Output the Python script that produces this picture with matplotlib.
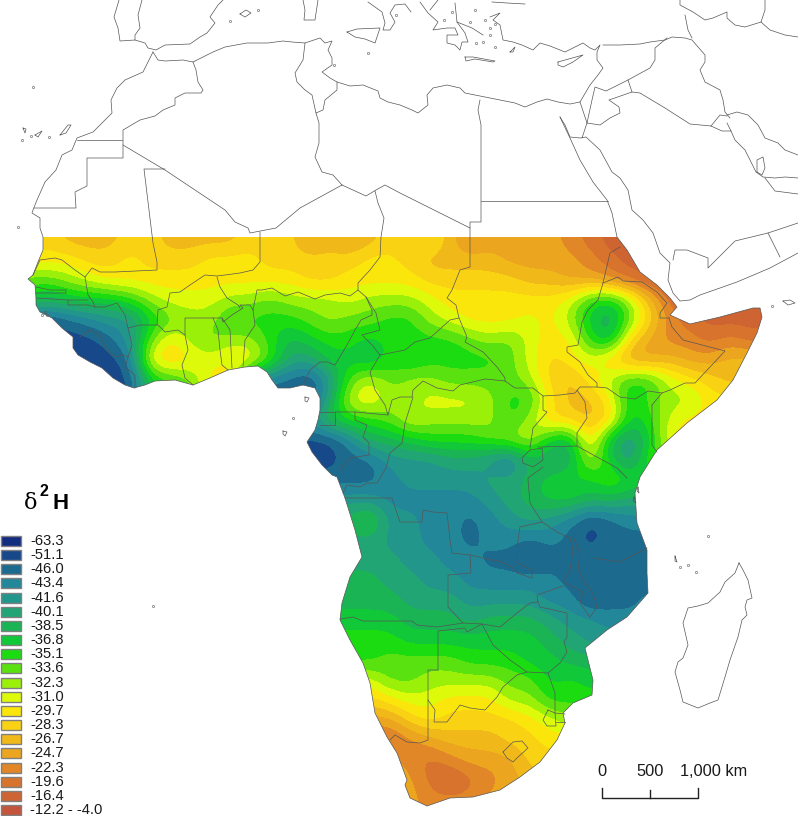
'''Map of modelled d2H over Africa: class grid read off the picture, with the
country lines traced on top. All map lists are in image pixels.'''
import matplotlib
matplotlib.use('Agg')
import matplotlib.pyplot as plt
import numpy as np
from matplotlib.colors import ListedColormap
from matplotlib.patches import Polygon, Rectangle

plt.rcParams['font.family'] = ['Liberation Sans', 'DejaVu Sans']

class_labels = ['-63.3', '-51.1', '-46.0', '-43.4', '-41.6', '-40.1', '-38.5', '-36.8', '-35.1', '-33.6',
                '-32.3', '-31.0', '-29.7', '-28.3', '-26.7', '-24.7', '-22.3', '-19.6', '-16.4', '-12.2 - -4.0']
class_colors = ['#122c80', '#17488a', '#1c6a8e', '#23879a', '#23968c', '#22a574', '#1ab455', '#10c838',
                '#1adc10', '#5ae110', '#9bf00a', '#dcfa0a', '#fae60a', '#fad214', '#f0b919', '#ebA51e',
                '#e18728', '#d7732d', '#cd6432', '#c3553c']
class_keys = 'abcdefghijklmnopqrst'

# one row every 20 px from y=240, one letter every 20 px from x=10
grid_rows = [
    'nnnoo onnoo oonnn popon omoqp pppqr stttt ttttt',
    'mmmmn nmnnn mmmnn nnnmm noooo ppppq rssss sssss',
    'kjjkl mmmmm mmmmm nnmmm mnnnn noopp qrsss sssss',
    'hhghh hikll lkkjk kklkk klmmm mmmli hkors sssss',
    'bbbcd eehjk kiiii jkjji iklmm mlmkh fjnqr sssss',
    'bbbbb cejmk jkkig hiihi iiijk jlmmi gnpqq rqrrr',
    'bbbbb bcmnm lmmjf fhhgi hiiii jlnml nppop poooo',
    'bbbbb bbhij mmecc bejlj kkjjj jknom kiilm noooo',
    'bbbbb bbhij mmccc bflmk klllk iimoo mhjkk mmmmm',
    'eeeee eeeee eeeee ehiij lkkkk iknno nhilm mmmmm',
    'bbbbb bbbbb bbbbb bbdgg hiiij klhgn gehmm mmmmm',
    'bbbbb bbbbb bbbbb bbcce eeffe cgffl hejjj jjjjj',
    'ccccc ccccc ccccc ccccd eeeef fghih jihhh hhhhh',
    'eeeee eeeee eeeee eeeed dddde fghhg gffff fffff',
    'ggggg ggggg ggggg gggie eddcd efedb cdddd ddddd',
    'fffff fffff fffff ffffe eddcd dcdcb ccccc ccccc',
    'fffff fffff fffff fffff eeddc cbccc ccccc ccccc',
    'ggggg ggggg ggggg ggggf feedd dddcc ccccc ccccc',
    'ggggg ggggg ggggg ggggg fffee eeddb ccddd ddddd',
    'hhhhh hhhhh hhhhh hhhhh gggfg ggfee ddddd ddddd',
    'iiiii iiiii iiiii iiiii hhhhh hhgfe eeeee eeeee',
    'iiiii iiiii iiiii iiiij jjjii ihhgg ggggg ggggg',
    'lllll lllll lllll llllj jkkkk jjhih hhhhh hhhhh',
    'nnnnn nnnnn nnnnn nnnnm llmmm kkiii iiiii iiiii',
    'ppppp ppppp ppppp ppppp nmnnn nmlkk kkkkk kkkkk',
    'rrrrr rrrrr rrrrr rrrrr qpooo nnmmm mmmmm mmmmm',
    'ppppp ppppp ppppp ppppp qrqpp pnnnn nnnnn nnnnn',
    'ppppp ppppp ppppp ppppp prsrq poooo ooooo ooooo',
    'ppppp ppppp ppppp ppppp pqqqp ppppp ppppp ppppp',
    'ppppp ppppp ppppp ppppp pqqqp ppppp ppppp ppppp',
]

scale_ticks = [0, 500, 1000]
scale_names = ['0', '500', '1,000 km']

coast_africa = [(153, 52), (148, 62), (143, 72), (125, 80), (117, 88), (111, 100), (112, 113), (100, 125), (93, 132),
    (77, 138), (72, 150), (62, 155), (56, 170), (45, 182), (37, 200), (33, 210), (32, 213), (40, 218), (40, 228),
    (43, 237), (43, 250), (38, 262), (33, 275), (28, 279), (35, 285), (36, 298), (36, 305), (40, 312), (52, 318),
    (62, 328), (73, 337), (73, 348), (78, 355), (90, 362), (102, 368), (113, 378), (125, 385), (134, 388), (145, 385),
    (155, 381), (175, 380), (193, 385), (210, 378), (228, 370), (245, 367), (258, 366), (267, 372), (272, 380),
    (278, 388), (290, 388), (303, 385), (315, 388), (320, 398), (320, 410), (318, 420), (315, 430), (307, 442),
    (312, 452), (322, 465), (332, 475), (337, 477), (345, 498), (355, 530), (362, 557), (350, 577), (342, 603),
    (340, 620), (350, 640), (363, 663), (370, 683), (375, 713), (387, 737), (397, 753), (407, 780), (405, 785),
    (410, 798), (427, 806), (450, 798), (473, 797), (500, 790), (520, 777), (540, 762), (557, 740), (565, 723),
    (563, 713), (573, 703), (592, 695), (593, 680), (588, 660), (585, 648), (607, 630), (627, 617), (648, 593),
    (647, 573), (647, 550), (637, 523), (635, 493), (640, 477), (657, 450), (687, 423), (717, 400), (733, 380),
    (747, 353), (757, 333), (762, 317), (760, 308), (753, 308), (720, 317), (690, 324), (670, 315), (677, 307),
    (670, 298), (657, 285), (640, 272), (627, 250), (617, 237), (612, 213), (607, 200), (593, 182), (580, 160),
    (570, 138), (560, 117)]
coast_med = [(153, 52), (158, 60), (165, 61), (183, 60), (193, 62), (203, 57), (213, 52), (225, 47), (247, 43), (268, 43),
    (283, 41), (292, 42), (305, 43), (320, 38), (325, 43), (332, 41), (328, 50), (332, 58), (332, 65), (322, 72),
    (330, 78), (337, 82), (350, 86), (363, 85), (378, 91), (380, 98), (388, 102), (400, 105), (412, 110), (418, 113),
    (428, 105), (427, 95), (433, 88), (447, 85), (460, 88), (465, 93), (480, 96), (500, 100), (515, 103), (525, 107),
    (537, 102), (547, 99), (558, 102), (570, 104), (580, 102), (590, 85), (598, 75), (603, 68), (597, 60), (597, 52),
    (600, 45), (595, 50), (590, 48), (583, 43), (565, 52), (550, 46), (540, 43), (533, 50), (522, 45), (513, 42),
    (503, 40), (500, 25), (493, 20), (500, 13), (490, 17)]
coast_other = [
    [(560, 117), (565, 125), (570, 137), (580, 138), (586, 137), (600, 150), (612, 172), (620, 178), (628, 190), (632, 210),
     (643, 220), (653, 233), (660, 253), (670, 263), (668, 280), (673, 293), (680, 301), (690, 300), (700, 295), (720, 288),
     (737, 282), (770, 268), (798, 253)],
    [(731, 131), (735, 140), (745, 150), (750, 160), (756, 172), (763, 177), (775, 178), (785, 177), (798, 178)],
    [(727, 115), (737, 112), (748, 115), (758, 125), (765, 138), (778, 143), (785, 150), (798, 155)],
    [(757, 172), (757, 160), (763, 157), (765, 168), (762, 175), (757, 172)],
    [(765, 0), (765, 10), (761, 22), (745, 27), (735, 25), (727, 18), (727, 12), (713, 18), (705, 20), (693, 12), (680, 5), (680, 0)],
    [(119, 0), (114, 17), (118, 28), (120, 41), (135, 40), (145, 43), (148, 48), (156, 50), (165, 45), (190, 44), (200, 37),
     (207, 33), (215, 23), (210, 17), (218, 5), (223, 0)],
    [(368, 2), (382, 12), (385, 23), (383, 30), (390, 30), (395, 22), (390, 13), (395, 5), (405, 4), (411, 12)],
    [(347, 32), (357, 29), (380, 28), (375, 43), (365, 39), (355, 37), (347, 32)],
    [(303, 0), (305, 10), (304, 20), (315, 20), (318, 0)],
    [(420, 2), (428, 13), (438, 22), (433, 30), (447, 28), (455, 28), (458, 35), (447, 35), (447, 43), (455, 45), (460, 50),
     (462, 42), (468, 42), (465, 33), (457, 22), (455, 3)],
    [(438, 0), (430, 10)],
    [(457, 22), (472, 28), (483, 35)],
    [(492, 2), (507, 3), (525, 4)],
    [(465, 57), (473, 57), (495, 61), (493, 62), (475, 59), (466, 61), (465, 57)],
    [(558, 62), (583, 55), (573, 62), (563, 67), (558, 65), (558, 62)],
    [(510, 52), (515, 47), (513, 52), (510, 52)],
    [(739, 563), (743, 570), (748, 580), (752, 598), (747, 600), (745, 607), (747, 615), (742, 620), (738, 637), (730, 660),
     (725, 677), (718, 700), (710, 703), (698, 708), (683, 702), (680, 690), (675, 672), (678, 662), (683, 658), (688, 645),
     (683, 623), (688, 608), (698, 606), (708, 603), (720, 592), (725, 582), (735, 573), (739, 563)],
    [(305, 397), (309, 398), (307, 402), (305, 401), (305, 397)],
    [(283, 431), (287, 432), (285, 436), (283, 434), (283, 431)],
    [(638, 487), (639, 493), (637, 491), (638, 487)],
    [(634, 497), (636, 503), (633, 501), (634, 497)],
    [(675, 556), (677, 562), (675, 561), (675, 556)],
    [(783, 301), (790, 300), (795, 303), (788, 305), (783, 301)],
    [(240, 14), (246, 10), (251, 13), (245, 17), (240, 14)],
    [(60, 135), (68, 125), (71, 125), (66, 133), (60, 135)],
    [(35, 135), (42, 131), (38, 137), (35, 135)],
    [(23, 128), (26, 129), (25, 133), (23, 128)],
]
small_islands = [(33, 87), (22, 140), (31, 136), (49, 137), (18, 227), (42, 315), (45, 312), (47, 315), (293, 418), (772, 306),
    (230, 21), (258, 10), (680, 567), (688, 565), (696, 572), (708, 536), (153, 606), (334, 65), (368, 53), (396, 15),
    (470, 22), (475, 10), (485, 20), (490, 28), (495, 24), (483, 42), (444, 20), (452, 12), (476, 43), (495, 47), (490, 35)]

borders = [
    [(193, 62), (196, 70), (198, 82), (203, 90), (201, 93), (185, 93), (175, 98), (175, 105), (163, 110), (155, 116), (140, 120), (123, 130), (123, 158), (87, 158), (87, 186), (75, 192), (76, 208), (34, 208)],
    [(77, 140), (122, 140)],
    [(305, 43), (303, 60), (295, 73), (297, 82), (305, 90), (312, 95), (316, 113), (319, 123), (319, 143), (315, 157), (322, 172), (333, 175), (342, 185)],
    [(316, 113), (323, 110), (325, 100), (337, 90), (337, 82)],
    [(123, 145), (165, 170), (225, 210), (235, 222), (248, 228), (250, 233), (276, 228), (300, 208), (342, 185)],
    [(165, 169), (144, 169), (153, 243), (157, 262), (157, 270), (115, 272), (100, 272), (92, 268), (85, 277), (75, 270), (62, 260), (55, 258), (40, 260), (33, 275)],
    [(260, 232), (260, 262), (253, 270), (240, 273), (225, 275), (217, 276), (205, 275), (190, 285), (180, 292), (170, 293), (167, 307), (158, 310), (157, 325)],
    [(217, 277), (220, 287), (227, 298), (238, 305), (240, 308)],
    [(85, 277), (88, 295), (93, 302), (95, 307), (105, 307), (117, 303), (125, 315), (128, 328), (140, 325), (148, 325), (158, 325), (165, 332), (178, 330), (185, 335), (188, 350), (182, 365), (185, 378), (193, 385)],
    [(185, 335), (185, 318), (213, 318), (222, 318), (223, 322), (232, 315), (243, 308), (240, 305), (250, 305), (253, 310), (257, 290), (262, 290), (272, 288), (285, 296), (298, 292), (315, 299), (325, 295), (340, 293), (350, 296), (358, 290)],
    [(342, 185), (366, 196), (376, 190), (385, 185), (400, 193), (470, 228), (470, 222), (481, 222), (481, 125), (478, 110), (480, 100)],
    [(481, 201), (608, 201)],
    [(375, 191), (378, 203), (384, 218), (381, 237), (380, 257), (370, 270), (358, 283), (358, 290), (366, 297), (372, 310), (372, 315), (361, 320), (355, 330), (347, 345), (335, 365), (327, 362), (320, 362), (310, 370), (303, 385)],
    [(470, 228), (470, 267), (460, 270), (452, 290), (447, 298), (456, 305), (459, 318), (467, 337), (465, 342), (483, 352), (497, 367), (505, 378), (505, 381), (515, 388), (533, 388), (543, 396), (560, 395), (575, 393), (580, 387), (597, 387), (607, 388), (620, 397), (635, 399), (648, 391), (662, 393), (670, 390), (685, 383), (695, 383), (725, 351), (683, 340), (672, 327), (669, 318)],
    [(459, 318), (450, 320), (430, 338), (415, 342), (405, 350), (390, 353), (380, 355)],
    [(366, 297), (376, 313), (380, 330), (362, 335), (372, 345), (380, 355), (370, 372), (375, 390), (385, 405), (388, 415), (392, 400), (400, 397), (412, 397), (413, 390), (423, 381), (437, 388), (453, 391), (460, 385), (485, 379), (505, 381)],
    [(320, 412), (335, 412), (335, 425), (320, 425)],
    [(335, 412), (355, 412), (388, 415)],
    [(355, 412), (355, 420), (367, 425), (363, 437), (369, 443), (369, 455), (350, 458), (340, 470)],
    [(413, 397), (410, 407), (405, 423), (402, 443), (390, 453), (386, 468), (377, 483), (367, 483), (360, 487), (347, 485), (343, 493)],
    [(543, 396), (543, 410), (547, 412), (533, 428), (530, 448)],
    [(577, 390), (585, 402), (587, 418), (577, 433), (577, 446), (538, 447)],
    [(577, 446), (617, 468), (627, 478)],
    [(530, 450), (542, 448), (543, 460), (533, 467), (523, 463), (522, 458), (530, 450)],
    [(543, 467), (528, 478), (528, 480), (530, 503), (542, 522), (557, 532), (570, 538)],
    [(652, 405), (652, 445), (657, 452)],
    [(652, 405), (662, 393)],
    [(620, 247), (610, 253), (603, 283), (598, 300), (588, 310), (582, 322), (578, 345), (567, 347), (567, 352), (580, 362), (588, 375), (597, 383), (597, 387)],
    [(603, 283), (618, 277), (623, 281), (642, 282), (657, 292), (667, 303), (660, 313), (660, 318), (669, 318)],
    [(573, 537), (580, 553), (578, 570), (585, 583), (593, 593), (597, 607), (590, 617), (580, 603), (583, 592), (563, 582), (570, 570), (573, 550), (570, 538)],
    [(593, 558), (620, 562), (647, 548)],
    [(542, 522), (520, 527), (518, 540), (517, 563), (532, 570), (532, 578), (517, 573), (513, 568), (502, 562), (483, 558), (470, 555), (452, 553), (450, 540), (447, 513), (433, 512), (423, 510), (422, 522), (400, 522), (392, 498), (345, 498)],
    [(470, 555), (471, 573), (448, 575), (448, 607), (463, 623), (482, 624), (500, 627), (517, 613), (530, 603), (538, 602), (537, 595), (563, 586)],
    [(538, 602), (540, 607), (567, 613), (567, 637), (564, 642), (567, 652), (560, 663), (548, 673), (527, 672), (510, 660), (493, 645), (482, 624)],
    [(340, 619), (353, 617), (363, 621), (412, 621), (417, 625), (437, 627), (463, 623)],
    [(482, 624), (467, 632), (465, 628), (438, 631), (438, 670), (428, 670), (428, 740), (420, 743), (407, 742), (395, 735), (390, 740)],
    [(428, 700), (435, 710), (434, 722), (447, 722), (460, 705), (470, 708), (485, 710), (497, 697), (503, 687), (517, 675), (527, 672)],
    [(548, 673), (555, 693), (555, 713), (565, 714)],
    [(548, 710), (555, 713), (556, 726), (547, 726), (543, 720), (548, 710)],
    [(556, 722), (565, 722)],
    [(503, 752), (513, 742), (522, 741), (528, 748), (517, 758), (513, 762), (507, 758), (503, 752)],
    [(36, 287), (50, 290), (66, 290), (66, 293), (50, 293), (36, 293)],
    [(36, 298), (68, 300), (88, 300)],
    [(68, 300), (68, 305), (88, 305), (95, 307)],
    [(80, 337), (90, 330), (100, 335), (105, 347), (115, 357), (123, 355), (128, 357), (125, 367), (135, 375), (135, 388)],
    [(128, 328), (132, 345), (128, 357)],
    [(213, 318), (218, 330), (220, 350), (222, 365), (228, 370)],
    [(222, 318), (230, 330), (232, 368)],
    [(253, 310), (255, 325), (245, 340), (243, 366)],
    [(142, 0), (138, 15), (140, 28), (135, 35), (135, 40)],
    [(603, 45), (620, 45), (640, 44), (650, 42), (665, 40), (672, 37), (685, 38), (692, 40), (705, 55), (705, 62), (700, 70), (705, 82), (720, 90), (723, 100), (725, 112), (730, 118)],
    [(667, 38), (655, 48), (655, 60), (650, 68), (628, 80), (606, 91), (595, 87), (592, 100), (587, 123), (582, 138)],
    [(628, 80), (632, 92), (609, 100), (619, 107), (620, 113), (610, 118), (600, 125), (587, 123)],
    [(580, 102), (587, 123)],
    [(632, 92), (640, 93), (665, 108), (690, 124), (711, 126), (720, 115), (727, 116)],
    [(711, 126), (722, 131), (731, 131), (727, 123)],
    [(685, 15), (688, 30), (692, 38)],
    [(761, 22), (770, 30), (785, 35), (798, 37)],
    [(765, 178), (775, 191), (798, 194)],
    [(673, 260), (675, 250), (687, 250), (708, 258), (708, 268), (735, 241), (768, 233), (798, 223)],
    [(768, 233), (780, 257)],
]

fig = plt.figure(figsize=(7.98, 8.16), dpi=100)
ax = fig.add_axes([0, 0, 1, 1])

# the classes are blended between cells, then cut to the coast
grid = np.array([[class_keys.index(c) for c in row.replace(' ', '')] for row in grid_rows])
im = ax.imshow(grid, extent=[0, 800, 830, 230], aspect='auto', cmap=ListedColormap(class_colors),
               vmin=-0.5, vmax=19.5, interpolation='bicubic', interpolation_stage='data')
land = Polygon([p for p in coast_africa if p[1] >= 237], closed=True, transform=ax.transData, fc='none', ec='none')
ax.add_patch(land)
im.set_clip_path(land)

line_color = '#555555'
for line in [coast_africa, coast_med] + coast_other + borders:
    xy = np.array(line)
    ax.plot(xy[:, 0], xy[:, 1], color=line_color, lw=0.5, solid_joinstyle='round')
dots = np.array(small_islands)
ax.plot(dots[:, 0], dots[:, 1], ls='none', marker='o', ms=1.6, mfc='none', mec=line_color, mew=0.4)

# legend
for i, (label, color) in enumerate(zip(class_labels, class_colors)):
    y = 541 + i*14.16
    ax.add_patch(Rectangle((1, y-5), 20, 10, fc=color, ec='#808080', lw=1))
    ax.text(30, y, label, fontsize=10.6, va='center', ha='left', color='#1a1a1a')
ax.text(24, 509, '\u03b4', fontsize=16, va='baseline', ha='left', family=['DejaVu Serif'], color='black')
ax.text(39, 496, '2', fontsize=11.5, va='baseline', ha='left', fontweight='bold', color='black')
ax.text(52, 509, 'H', fontsize=16, va='baseline', ha='left', fontweight='bold', color='black')

# scale bar
scale_x = [602 + t*0.096 for t in scale_ticks]
ax.plot([scale_x[0], scale_x[0], scale_x[-1], scale_x[-1]], [788, 798, 798, 788], color='#222222', lw=1)
ax.plot([scale_x[1], scale_x[1]], [790, 798], color='#222222', lw=1)
ax.text(scale_x[0], 772, scale_names[0], fontsize=11.8, ha='center', va='center', color='#1a1a1a')
ax.text(scale_x[1], 772, scale_names[1], fontsize=11.8, ha='center', va='center', color='#1a1a1a')
ax.text(680, 772, scale_names[2], fontsize=11.8, ha='left', va='center', color='#1a1a1a')

ax.set_xlim(0, 798)
ax.set_ylim(816, 0)
ax.axis('off')
fig.savefig('out.png', dpi=100)
